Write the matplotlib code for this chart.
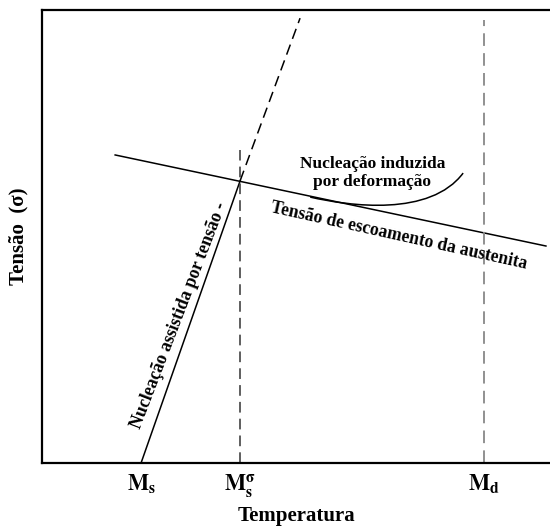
import matplotlib.pyplot as plt
from matplotlib.path import Path
from matplotlib.patches import PathPatch

# ------------------------------------------
# dados do diagrama (unidades arbitrarias 0-100)
# ------------------------------------------
temp_ticks = [19.5, 39.0, 87.0]
temp_labels = [r'$\mathbf{M_s}$', r'$\mathbf{M_s^{\sigma}}$', r'$\mathbf{M_d}$']

# tensao de escoamento da austenita
aust_x = [14.4, 99.2]
aust_y = [68.0, 47.9]

# nucleacao assistida por tensao (parte cheia e prolongamento tracejado)
assist_x = [19.5, 39.0]
assist_y = [0.0, 62.3]
assist_ext_x = [39.0, 50.8]
assist_ext_y = [62.3, 98.2]

# linhas verticais em Ms^sigma e Md
ms_sigma_top = 69.1
md_top = 97.8

# curva da nucleacao induzida por deformacao (bezier cubica)
curva_x = [52.8, 60.6, 76.4, 82.9]
curva_y = [58.7, 56.7, 54.3, 64.0]

serif = 'Liberation Serif'
plt.rcParams['mathtext.fontset'] = 'stix'

fig = plt.figure(figsize=(5.5, 5.26), dpi=100)
ax = fig.add_axes([42 / 550, 63 / 526, 508 / 550, 453 / 526])
ax.set_xlim(0, 100)
ax.set_ylim(0, 100)

# linhas principais
ax.plot(aust_x, aust_y, color='black', lw=1.1)
ax.plot(assist_x, assist_y, color='black', lw=1.1)
ax.plot(assist_ext_x, assist_ext_y, color='black', lw=1.1, dashes=(7, 4))
ax.plot([temp_ticks[1], temp_ticks[1]], [0, ms_sigma_top], color='#333333', lw=1.1, dashes=(7, 4))
ax.plot([temp_ticks[2], temp_ticks[2]], [0, md_top], color='#888888', lw=1.3, dashes=(7, 4))

codes = [Path.MOVETO, Path.CURVE4, Path.CURVE4, Path.CURVE4]
curva = Path(list(zip(curva_x, curva_y)), codes)
ax.add_patch(PathPatch(curva, facecolor='none', edgecolor='black', lw=1.1))

# textos
ax.text(65.0, 66.0, 'Nucleação induzida', family=serif, fontweight='bold',
        fontsize=12.5, ha='center', va='center')
ax.text(65.0, 62.0, 'por deformação', family=serif, fontweight='bold',
        fontsize=12.5, ha='center', va='center')
ax.text(70.3, 50.1, 'Tensão de escoamento da austenita', family=serif,
        fontweight='bold', fontsize=12.7, ha='center', va='center',
        rotation=-12.5, rotation_mode='anchor')
ax.text(27.0, 32.5, 'Nucleação assistida por tensão -', family=serif,
        fontweight='bold', fontsize=12.8, ha='center', va='center',
        rotation=69, rotation_mode='anchor')

# eixos
ax.set_xticks(temp_ticks)
ax.set_xticklabels(temp_labels, fontsize=16)
ax.set_yticks([])
ax.tick_params(axis='x', length=0, pad=7)
ax.set_xlabel('Temperatura', family=serif, fontweight='bold', fontsize=15, labelpad=4)
ax.set_ylabel('Tensão  (σ)', family=serif, fontweight='bold', fontsize=15, labelpad=10)

for lado in ['left', 'top', 'bottom']:
    ax.spines[lado].set_linewidth(1.6)
ax.spines['right'].set_visible(False)

plt.savefig('out.png', dpi=100)
